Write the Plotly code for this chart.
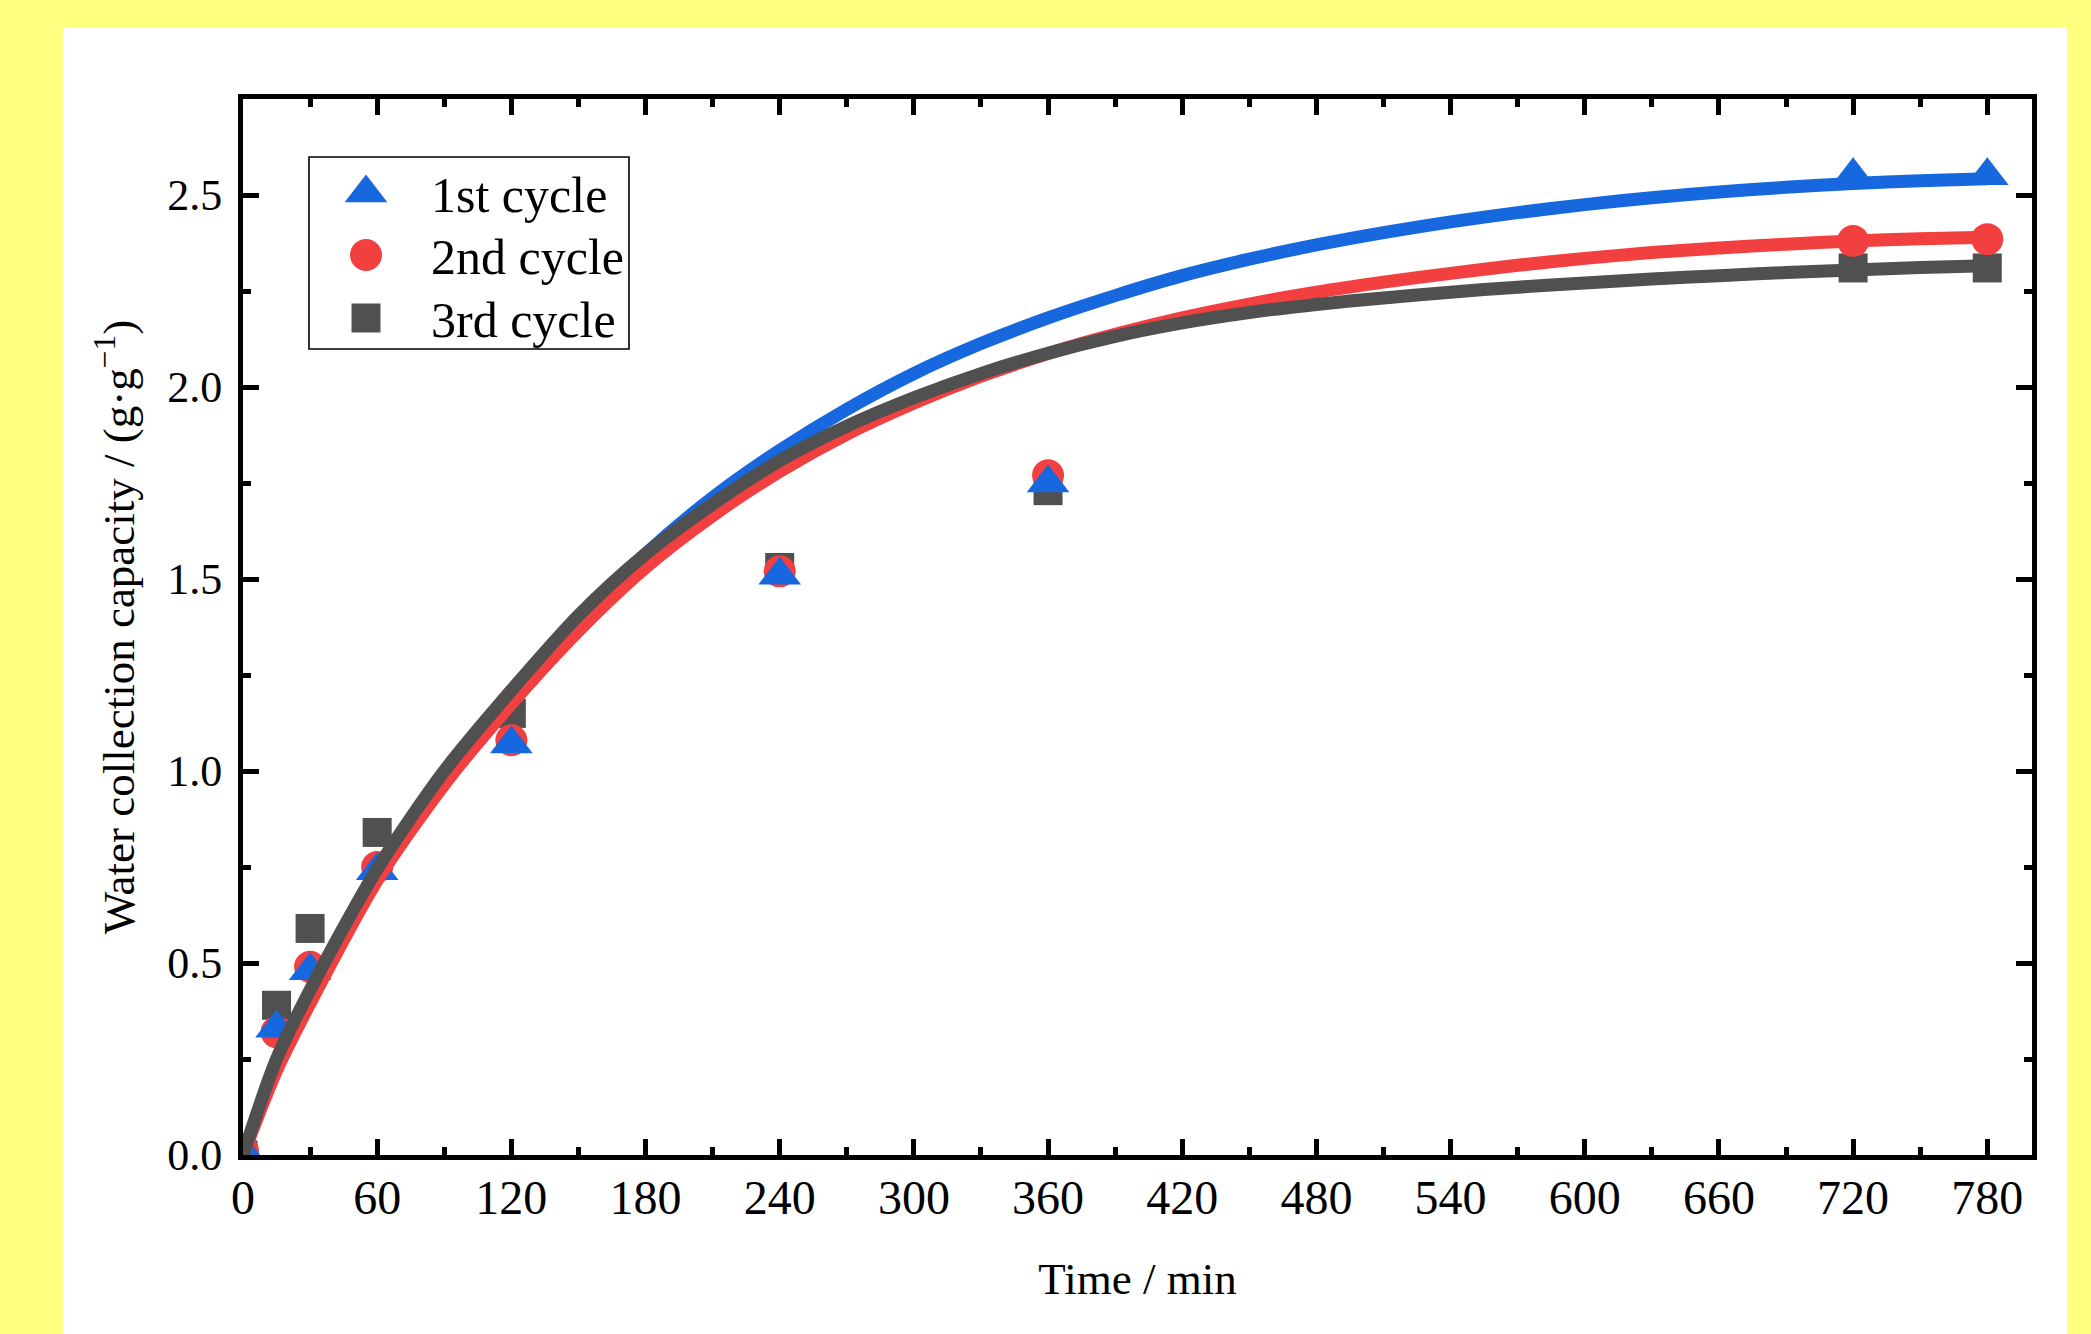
import plotly.graph_objects as go

# ---------------- data ----------------
time_min = [0, 15, 30, 60, 120, 240, 360, 720, 780]
cycle1 = [0.01, 0.33, 0.48, 0.74, 1.07, 1.51, 1.75, 2.55, 2.55]
cycle2 = [0.01, 0.32, 0.49, 0.75, 1.08, 1.52, 1.77, 2.38, 2.385]
cycle3 = [0.00, 0.39, 0.59, 0.84, 1.15, 1.53, 1.73, 2.31, 2.31]

fit_time = [0, 15, 30, 60, 90, 120, 150, 180, 210, 240, 270, 300, 330, 360,
            390, 420, 450, 480, 510, 540, 570, 600, 630, 660, 690, 720, 750, 780]
fit1 = [0.0, 0.235, 0.41, 0.73, 0.985, 1.20, 1.392, 1.565, 1.712, 1.835, 1.942,
        2.035, 2.113, 2.18, 2.238, 2.29, 2.333, 2.37, 2.402, 2.43, 2.454, 2.475,
        2.493, 2.508, 2.52, 2.53, 2.537, 2.542]
fit2 = [0.0, 0.22, 0.395, 0.715, 0.965, 1.175, 1.365, 1.53, 1.665, 1.78, 1.877,
        1.958, 2.028, 2.087, 2.137, 2.18, 2.216, 2.247, 2.273, 2.296, 2.317, 2.335,
        2.35, 2.362, 2.372, 2.38, 2.386, 2.39]
fit3 = [0.0, 0.25, 0.43, 0.745, 1.0, 1.21, 1.405, 1.565, 1.695, 1.808, 1.898,
        1.972, 2.035, 2.088, 2.132, 2.167, 2.194, 2.215, 2.232, 2.247, 2.26, 2.271,
        2.281, 2.29, 2.298, 2.305, 2.311, 2.316]

series_names = ["1st cycle", "2nd cycle", "3rd cycle"]
x_ticks = [0, 60, 120, 180, 240, 300, 360, 420, 480, 540, 600, 660, 720, 780]
y_ticks = [0.0, 0.5, 1.0, 1.5, 2.0, 2.5]

# ---------------- styles ----------------
BLUE = "#1767DE"
RED = "#F23F3F"
GREY = "#505050"
FONT = "Liberation Serif, Times New Roman, serif"

W, H = 2091, 1334
L, T, R, B = 243, 99, 2032, 1155  # plot area in pixels (axis lines sit just outside)
PW, PH = R - L, B - T


def px_x(p):
    return (p - L) / PW


def px_y(p):
    return (B - p) / PH


fig = go.Figure()

# data markers (squares underneath, triangles on top)
marker_specs = [
    (series_names[2], cycle3, GREY, "square", 29),
    (series_names[1], cycle2, RED, "circle", 32),
    (series_names[0], cycle1, BLUE, "triangle-up", 37),
]
for name, ys, color, sym, size in marker_specs:
    fig.add_trace(go.Scatter(
        x=time_min, y=ys, mode="markers", name=name, showlegend=False,
        marker=dict(symbol=sym, size=size, color=color, line=dict(width=0)),
    ))

# fitted curves
for name, ys, color in [(series_names[0], fit1, BLUE),
                        (series_names[1], fit2, RED),
                        (series_names[2], fit3, GREY)]:
    fig.add_trace(go.Scatter(
        x=fit_time, y=ys, mode="lines", name=name + " fit", showlegend=False,
        line=dict(color=color, width=13, shape="spline", smoothing=0.8),
    ))

# custom legend (large markers like the reference) on an overlay axis
legend_rows_px = [193, 255, 318]
legend_marker_x = px_x(366)
legend_text_x = px_x(429)
for (name, color, sym, size), row in zip(
        [(series_names[0], BLUE, "triangle-up", 37),
         (series_names[1], RED, "circle", 32),
         (series_names[2], GREY, "square", 29)], legend_rows_px):
    fig.add_trace(go.Scatter(
        x=[legend_marker_x], y=[px_y(row)], xaxis="x2", yaxis="y2",
        mode="markers", showlegend=False, hoverinfo="skip", cliponaxis=False,
        marker=dict(symbol=sym, size=size, color=color, line=dict(width=0)),
    ))
    fig.add_annotation(
        x=legend_text_x, y=px_y(row + 2), xref="paper", yref="paper",
        text=name, showarrow=False, xanchor="left", yanchor="middle",
        font=dict(family=FONT, size=50, color="black"),
    )

shapes = [
    # white card on the yellow background
    dict(type="rect", xref="paper", yref="paper", layer="below",
         x0=px_x(63), x1=px_x(2067), y0=px_y(1334), y1=px_y(28),
         fillcolor="white", line=dict(width=0)),
    # legend frame
    dict(type="rect", xref="paper", yref="paper", layer="above",
         x0=px_x(309), x1=px_x(629), y0=px_y(349), y1=px_y(157),
         fillcolor="rgba(0,0,0,0)", line=dict(color="black", width=1.6)),
]

axis_common = dict(
    showgrid=False, zeroline=False, showline=True, linecolor="black",
    linewidth=5, mirror="ticks", ticks="inside", ticklen=16, tickwidth=4.5,
    tickcolor="black",
)

fig.update_layout(
    width=W, height=H,
    margin=dict(l=L, r=W - R, t=T, b=H - B, pad=0),
    paper_bgcolor="#FFFF80",
    plot_bgcolor="white",
    showlegend=False,
    font=dict(family=FONT, color="black"),
    shapes=shapes,
    xaxis=dict(
        range=[0, 800], tickvals=x_ticks, ticktext=[str(v) for v in x_ticks],
        tickfont=dict(family=FONT, size=48, color="black"),
        ticklabelstandoff=-4,
        minor=dict(dtick=30, tick0=0, ticks="inside", ticklen=8,
                   tickwidth=4.5, tickcolor="black"),
        title=dict(text="Time / min", standoff=41,
                   font=dict(family=FONT, size=45, color="black")),
        **axis_common,
    ),
    yaxis=dict(
        range=[0, 2.75], tickvals=y_ticks,
        ticktext=[f"{v:.1f}" for v in y_ticks],
        tickfont=dict(family=FONT, size=44, color="black"),
        ticklabelstandoff=7,
        minor=dict(dtick=0.25, tick0=0, ticks="inside", ticklen=8,
                   tickwidth=4.5, tickcolor="black"),
        title=dict(text="Water collection capacity / (g·g<sup>−1</sup>)",
                   standoff=20,
                   font=dict(family=FONT, size=45, color="black")),
        **axis_common,
    ),
    xaxis2=dict(overlaying="x", range=[0, 1], visible=False, fixedrange=True),
    yaxis2=dict(overlaying="y", range=[0, 1], visible=False, fixedrange=True),
)

fig.write_html(
    "out.html",
    config={"displayModeBar": False},
    post_script="document.body.style.margin='0px';"
                "document.body.style.overflow='hidden';",
)
